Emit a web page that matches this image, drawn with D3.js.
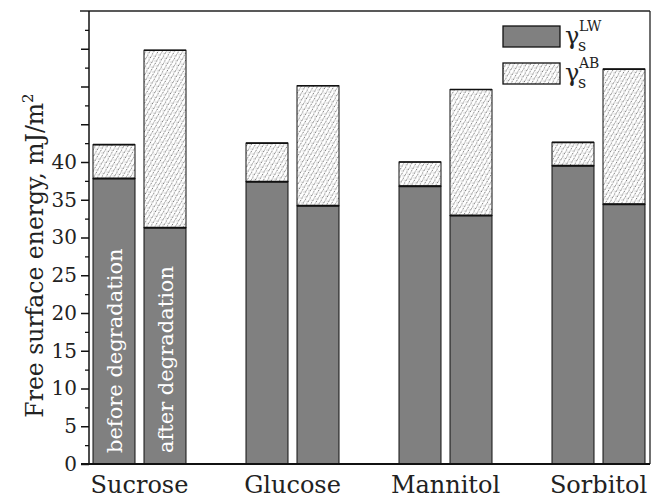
<!DOCTYPE html>
<html>
<head>
<meta charset="utf-8">
<script src="https://cdn.jsdelivr.net/npm/d3@7"></script>
<style>
  html, body { margin: 0; padding: 0; background: #fff; }
  svg { display: block; }
  text { font-family: "DejaVu Serif", serif; }
</style>
</head>
<body>
<svg id="chart" width="656" height="499"></svg>
<script>
// ---- data ----
const categories = ["Sucrose", "Glucose", "Mannitol", "Sorbitol"];
const states = ["before", "after"];
const stateLabels = ["before degradation", "after degradation"];
// gamma_s^LW component (mJ/m2)
const lwBefore = [37.8, 37.4, 36.8, 39.5];
const lwAfter  = [31.3, 34.2, 32.9, 34.4];
// total free surface energy (LW + AB)
const totalBefore = [42.3, 42.5, 40.0, 42.6];
const totalAfter  = [54.8, 50.1, 49.6, 52.3];
const yTicksMajor = [0, 5, 10, 15, 20, 25, 30, 35, 40, 45, 50, 55];
const yTickLabels = ["0", "5", "10", "15", "20", "25", "30", "35", "40"];
const yMinorTicks = [2.5, 7.5, 12.5, 17.5, 22.5, 27.5, 32.5, 37.5, 42.5, 47.5, 52.5, 57.5];

const svg = d3.select("#chart");

// pattern for AB hatch
const defs = svg.append("defs");
const pat = defs.append("pattern")
  .attr("id", "hatch").attr("patternUnits", "userSpaceOnUse")
  .attr("width", 5).attr("height", 5)
  .attr("patternTransform", "rotate(-15)");
pat.append("rect").attr("width", 5).attr("height", 5).attr("fill", "#fff");
pat.append("line").attr("x1", 0).attr("y1", 5).attr("x2", 5).attr("y2", 0)
  .attr("stroke", "#777").attr("stroke-width", 1).attr("stroke-dasharray", "2.4,1.1");
pat.append("circle").attr("cx", 4).attr("cy", 4).attr("r", 0.4).attr("fill", "#333");

const plotLeft = 89, plotRight = 650, plotTop = 11, plotBottom = 464;

const y = d3.scaleLinear().domain([0, 60]).range([plotBottom, plotTop]);
const x0 = d3.scaleBand().domain(categories).range([63, 675]);
const x1 = d3.scaleBand().domain(states).range([0, 93]).paddingInner(0.1765);

const rows = [];
categories.forEach((c, i) => {
  rows.push({ cat: c, state: "before", lw: lwBefore[i], total: totalBefore[i], i });
  rows.push({ cat: c, state: "after", lw: lwAfter[i], total: totalAfter[i], i });
});
const bx = d => x0(d.cat) + x0.bandwidth() / 2 - 46.5 + x1(d.state);

const g = svg.append("g");

// AB part (hatched)
g.selectAll("rect.ab").data(rows).join("rect")
  .attr("class", "ab")
  .attr("x", bx).attr("width", x1.bandwidth())
  .attr("y", d => y(d.total)).attr("height", d => y(d.lw) - y(d.total))
  .attr("fill", "url(#hatch)").attr("stroke", "#111").attr("stroke-width", 1);

// LW part (grey)
g.selectAll("rect.lw").data(rows).join("rect")
  .attr("class", "lw")
  .attr("x", bx).attr("width", x1.bandwidth())
  .attr("y", d => y(d.lw)).attr("height", d => y(0) - y(d.lw))
  .attr("fill", "#808080").attr("stroke", "#111").attr("stroke-width", 1);

// thicker separator line at top of LW
g.selectAll("line.sep").data(rows).join("line")
  .attr("x1", bx).attr("x2", d => bx(d) + x1.bandwidth())
  .attr("y1", d => y(d.lw)).attr("y2", d => y(d.lw))
  .attr("stroke", "#111").attr("stroke-width", 2);

// top border line of total (slightly heavier)
g.selectAll("line.top").data(rows).join("line")
  .attr("x1", bx).attr("x2", d => bx(d) + x1.bandwidth())
  .attr("y1", d => y(d.total)).attr("y2", d => y(d.total))
  .attr("stroke", "#111").attr("stroke-width", 1.6);

// in-bar labels for first category
states.forEach((s, k) => {
  const d = rows.find(r => r.cat === categories[0] && r.state === s);
  const cx = bx(d) + x1.bandwidth() / 2 + 8;
  g.append("text")
    .attr("transform", `translate(${cx},${plotBottom - 11}) rotate(-90)`)
    .attr("fill", "#fff").attr("font-size", 21)
    .text(stateLabels[k]);
});

// frame: top and right
svg.append("line").attr("x1", 80).attr("x2", plotRight).attr("y1", plotTop).attr("y2", plotTop)
  .attr("stroke", "#222").attr("stroke-width", 1.3);
svg.append("line").attr("x1", plotRight).attr("x2", plotRight).attr("y1", plotTop).attr("y2", plotBottom)
  .attr("stroke", "#222").attr("stroke-width", 1.3);

// left axis
const yAxis = d3.axisLeft(y).tickValues(yTicksMajor).tickSize(8).tickSizeOuter(0)
  .tickFormat(v => yTickLabels.includes(String(v)) ? String(v) : "");
const ya = svg.append("g").attr("transform", `translate(${plotLeft},0)`).call(yAxis);
ya.select(".domain").attr("stroke", "#111").attr("stroke-width", 1.5)
  .attr("d", `M0,${plotTop}V${plotBottom}`);
ya.selectAll(".tick line").attr("stroke", "#111").attr("stroke-width", 1.5);
ya.selectAll(".tick text").attr("font-family", "DejaVu Serif").attr("font-size", 20)
  .attr("fill", "#222").attr("x", -12);
const yMinor = d3.axisLeft(y).tickValues(yMinorTicks).tickSize(4).tickFormat("");
const ym = svg.append("g").attr("transform", `translate(${plotLeft},0)`).call(yMinor);
ym.select(".domain").remove();
ym.selectAll(".tick line").attr("stroke", "#111").attr("stroke-width", 1.3);

// bottom axis (no ticks)
const xAxis = d3.axisBottom(x0).tickSize(0).tickPadding(12);
const xa = svg.append("g").attr("transform", `translate(0,${plotBottom})`).call(xAxis);
xa.select(".domain").attr("stroke", "#111").attr("stroke-width", 2.2)
  .attr("d", `M81,0H${plotRight}`);
xa.selectAll(".tick text").attr("font-family", "DejaVu Serif").attr("font-size", 24)
  .attr("fill", "#222");

// y label
const yl = svg.append("text")
  .attr("transform", `translate(43,${(plotTop + plotBottom) / 2 + 18}) rotate(-90)`)
  .attr("text-anchor", "middle").attr("font-size", 23.5).attr("fill", "#222");
yl.append("tspan").text("Free surface energy, mJ/m");
yl.append("tspan").attr("font-size", 15).attr("dy", -10).text("2");

// legend
const legend = [
  { fill: "#808080", sup: "LW" },
  { fill: "url(#hatch)", sup: "AB" }
];
const lg = svg.append("g");
legend.forEach((l, k) => {
  const top = 26 + k * 37;
  lg.append("rect").attr("x", 503).attr("y", top).attr("width", 57).attr("height", 21)
    .attr("fill", l.fill).attr("stroke", "#111").attr("stroke-width", 1.3);
  lg.append("text").attr("x", 565).attr("y", top + 18).attr("font-size", 24).attr("fill", "#222").text("γ");
  lg.append("text").attr("x", 578).attr("y", top + 25).attr("font-size", 16).attr("fill", "#222").text("s");
  lg.append("text").attr("x", 579).attr("y", top + 5).attr("font-size", 14).attr("fill", "#222").text(l.sup);
});
</script>
</body>
</html>
